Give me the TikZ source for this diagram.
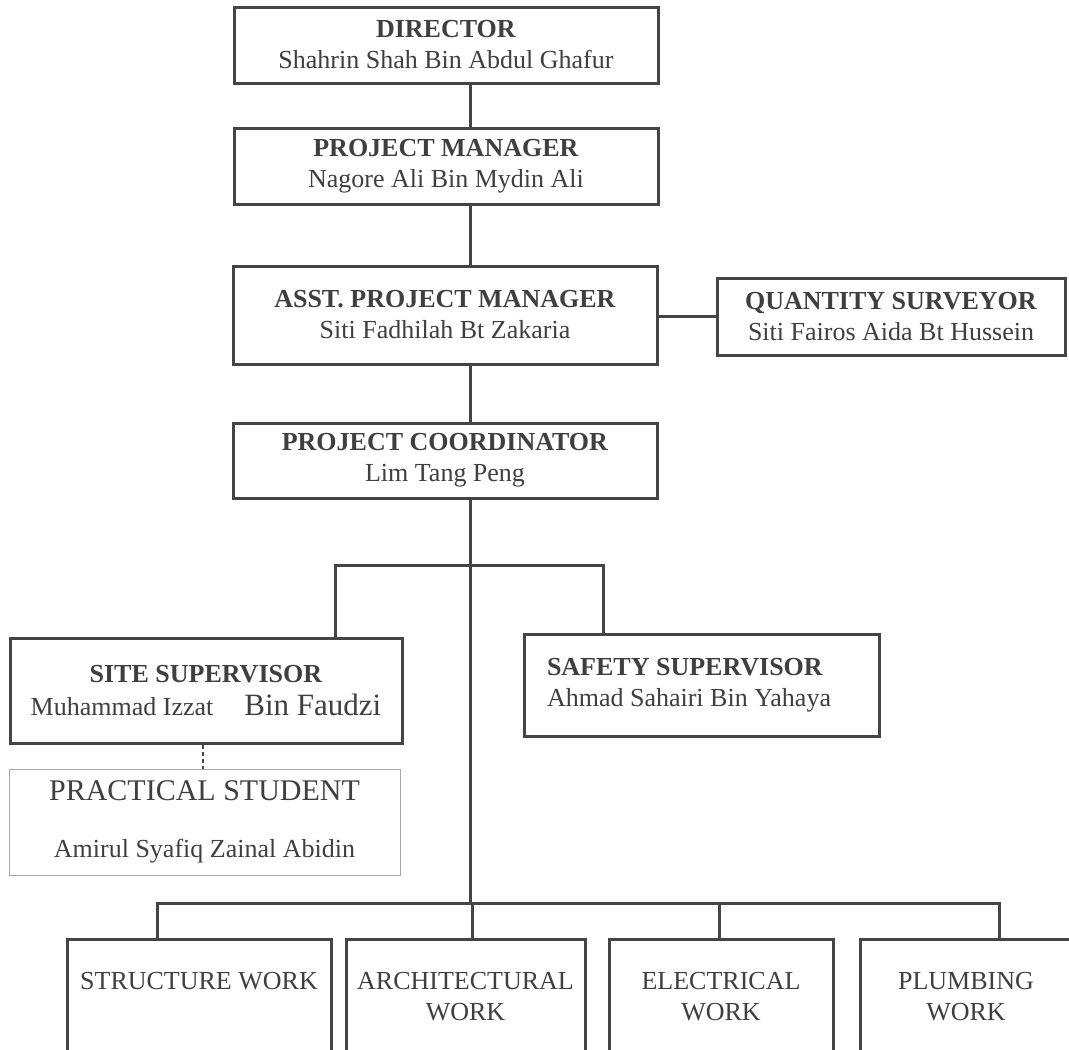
\documentclass[tikz,border=0pt]{standalone}
\usepackage{fontspec}
\setmainfont{Liberation Serif}
\definecolor{linegray}{HTML}{454545}
\definecolor{textgray}{HTML}{3F3F3F}
\definecolor{palegray}{HTML}{A8A8A8}
\begin{document}
\begin{tikzpicture}[x=1pt,y=-1pt,
                post/.style={draw=linegray,line width=3pt,text=textgray,align=center,inner sep=0pt,font=\fontsize{26}{31}\selectfont},
                trade/.style={post,minimum height=115pt},
                link/.style={draw=linegray,line width=3pt,line cap=rect},
                dashlink/.style={draw=linegray,line width=1.6pt,dash pattern=on 4pt off 3pt}]
                \useasboundingbox (0,0) rectangle (1069,1050);
                \clip (0,0) rectangle (1069,1050);
                \fill[white] (0,0) rectangle (1069,1050);
                % management line
                \node[post,minimum width=424pt,minimum height=76pt](DIR) at (446,45) {\textbf{DIRECTOR}\\Shahrin Shah Bin Abdul Ghafur};
                \node[post,minimum width=424pt,minimum height=76pt](PM) at (446,166) {\textbf{PROJECT MANAGER}\\Nagore Ali Bin Mydin Ali};
                \node[post,minimum width=424pt,minimum height=98pt](APM) at (445,315) {\textbf{ASST. PROJECT MANAGER}\\Siti Fadhilah Bt Zakaria};
                \node[post,minimum width=348pt,minimum height=77pt](QS) at (891,316.5) {\textbf{QUANTITY SURVEYOR}\\Siti Fairos Aida Bt Hussein};
                \node[post,minimum width=424pt,minimum height=75pt](PC) at (445,460.5) {\textbf{PROJECT COORDINATOR}\\Lim Tang Peng};
                % site staff
                \node[post,minimum width=392pt,minimum height=105pt](SITE) at (206,690.5) {\textbf{SITE SUPERVISOR}\\[2pt]Muhammad Izzat\hspace{31pt}{\fontsize{31}{31}\selectfont Bin Faudzi}};
                \node[post,minimum width=355pt,minimum height=102pt,align=flush left,text width=309pt](SAFE) at (701.5,685) {\textbf{SAFETY SUPERVISOR}\\Ahmad Sahairi Bin Yahaya};
                \node[post,draw=palegray,line width=1pt,minimum width=391pt,minimum height=106pt](STUD) at (204.5,822) {{\fontsize{30}{30}\selectfont PRACTICAL STUDENT}\\[26pt]Amirul Syafiq Zainal Abidin};
                % trades
                \node[trade,minimum width=264pt](STR) at (199,996.5) {STRUCTURE WORK\\\phantom{W}};
                \node[trade,minimum width=239pt](ARCH) at (465.5,996.5) {ARCHITECTURAL\\WORK};
                \node[trade,minimum width=224pt](ELEC) at (721,996.5) {ELECTRICAL\\WORK};
                \node[trade,minimum width=212pt](PLUMB) at (966,996.5) {PLUMBING\\WORK};
                % connectors
                \coordinate (TRUNK) at (470,0);
                \coordinate (FORK) at (470,565);
                \coordinate (SITEJ) at (335,565);
                \coordinate (SAFEJ) at (603,565);
                \coordinate (BUS) at (470,903);
                \coordinate (BUSL) at (157,903);
                \coordinate (BUSR) at (999,903);
                \coordinate (DROP) at (203,0);
                \draw[link] (DIR.south -| TRUNK) -- (PM.north -| TRUNK);
                \draw[link] (PM.south -| TRUNK) -- (APM.north -| TRUNK);
                \draw[link] (APM.south -| TRUNK) -- (PC.north -| TRUNK);
                \draw[link] (APM.east |- QS.west) -- (QS.west);
                \draw[link] (PC.south -| TRUNK) -- (BUS);
                \draw[link] (SITE.north -| SITEJ) |- (FORK) -| (SAFE.north -| SAFEJ);
                \draw[dashlink] (SITE.south -| DROP) -- (STUD.north -| DROP);
                \draw[link] (BUSL) -- (BUSR);
                \foreach \tx/\trd in {157/STR,472/ARCH,719/ELEC,999/PLUMB}{
                    \coordinate (TAP) at (\tx,903);
                    \draw[link] (TAP) -- (TAP |- \trd.north);
                }
\end{tikzpicture}
\end{document}
